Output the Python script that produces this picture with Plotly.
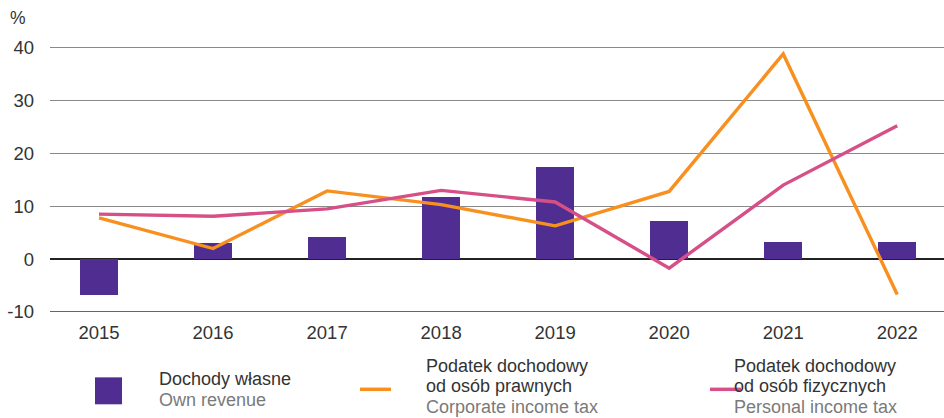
import plotly.graph_objects as go

years = ["2015", "2016", "2017", "2018", "2019", "2020", "2021", "2022"]
own_revenue = [-6.7, 3.0, 4.1, 11.7, 17.5, 7.3, 3.3, 3.3]
cit = [7.8, 2.0, 12.9, 10.3, 6.3, 12.8, 38.8, -6.7]
pit = [8.5, 8.1, 9.5, 13.0, 10.8, -1.7, 14.0, 25.2]

PURPLE = "#4F2D91"
ORANGE = "#F7901E"
PINK = "#D64F87"
FONT = "Liberation Sans, Arial, sans-serif"
FS = 18.5
LFS = 18

fig = go.Figure()
fig.add_trace(go.Bar(x=years, y=own_revenue, marker=dict(color=PURPLE, line=dict(width=0)),
                     width=0.333, showlegend=False))
fig.add_trace(go.Scatter(x=years, y=cit, mode="lines", line=dict(color=ORANGE, width=3.4),
                         showlegend=False))
fig.add_trace(go.Scatter(x=years, y=pit, mode="lines", line=dict(color=PINK, width=3.4),
                         showlegend=False))

fig.update_layout(
    width=944, height=418,
    margin=dict(l=50, r=0, t=37, b=105.5),
    paper_bgcolor="white", plot_bgcolor="white",
    font=dict(family=FONT, size=FS, color="#333"),
    xaxis=dict(range=[-0.43, 7.41], showgrid=False, ticks="", showline=False,
               ticklabelstandoff=7,
               tickfont=dict(size=FS, color="#333")),
    yaxis=dict(range=[-10, 42], tickvals=[-10, 0, 10, 20, 30, 40],
               ticktext=["-10", "0", "10", "20", "30", "40"],
               showgrid=True, gridcolor="#8a8a8a", gridwidth=1.3,
               zeroline=True, zerolinecolor="#222", zerolinewidth=1.5,
               ticks="", ticklabelstandoff=15,
               tickfont=dict(size=FS, color="#333")),
    bargap=0,
)

# Bottom axis line at -10
fig.add_shape(type="line", xref="paper", yref="y", x0=0, x1=1, y0=-10, y1=-10,
              line=dict(color="#333", width=1.5), layer="above")

fig.add_annotation(text="%", xref="paper", yref="paper", x=(18 - 50) / 894, y=(312.5 - 18) / 275.6,
                   xanchor="center", yanchor="middle", showarrow=False,
                   font=dict(size=FS - 1, color="#333"))

# Custom legend
fig.add_shape(type="rect", xref="paper", yref="paper",
              x0=(95 - 50) / 894, x1=(122 - 50) / 894,
              y0=(312.5 - 405) / 275.6, y1=(312.5 - 378) / 275.6,
              fillcolor=PURPLE, line=dict(width=0))
for x0, x1, col in [(360, 391, ORANGE), (710, 741, PINK)]:
    fig.add_shape(type="line", xref="paper", yref="paper",
                  x0=(x0 - 50) / 894, x1=(x1 - 50) / 894,
                  y0=(312.5 - 390) / 275.6, y1=(312.5 - 390) / 275.6,
                  line=dict(color=col, width=3.5))

def ann(text, px, py, color="#333"):
    fig.add_annotation(text=text, xref="paper", yref="paper",
                       x=(px - 50) / 894, y=(312.5 - py) / 275.6,
                       xanchor="left", yanchor="middle", showarrow=False,
                       font=dict(size=LFS, color=color, family=FONT))

GREY = "#7a7a7a"
ann("Dochody własne", 157, 380)
ann("Own revenue", 157, 400.5, GREY)
ann("Podatek dochodowy", 424, 366.5)
ann("od osób prawnych", 424, 387)
ann("Corporate income tax", 424, 407.5, GREY)
ann("Podatek dochodowy", 732, 366.5)
ann("od osób fizycznych", 732, 387)
ann("Personal income tax", 732, 407.5, GREY)

fig.write_html("out.html")
